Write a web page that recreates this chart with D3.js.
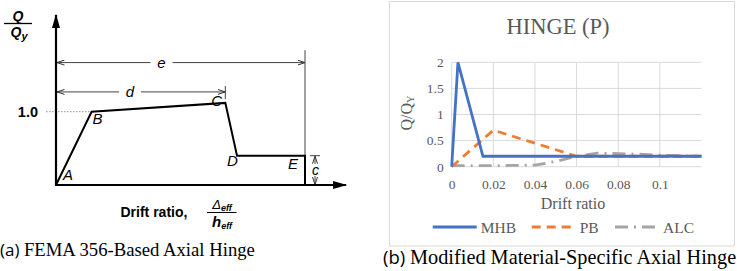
<!DOCTYPE html>
<html>
<head>
<meta charset="utf-8">
<script src="https://cdn.jsdelivr.net/npm/d3@7"></script>
<style>
  body { margin: 0; background: #fff; }
  svg { display: block; }
</style>
</head>
<body>
<script>
// ---- data: left schematic (FEMA 356 backbone, normalised units) ----
var hingeLabels = ["A", "B", "C", "D", "E"];
var hingeX = [0, 0.143, 0.68, 0.727, 1.0];
var hingeY = [0, 1.0, 1.12, 0.4, 0.4];

// ---- data: right chart (drift ratio vs Q/QY) ----
var mhbX = [0, 0.003, 0.015, 0.12];
var mhbY = [0, 2.0, 0.2, 0.2];
var pbX = [0, 0.02, 0.06, 0.12];
var pbY = [0, 0.7, 0.2, 0.2];
var alcX = [0, 0.02, 0.04, 0.05, 0.06, 0.07, 0.08, 0.09, 0.1, 0.12];
var alcY = [0.02, 0.02, 0.03, 0.1, 0.2, 0.26, 0.25, 0.24, 0.22, 0.2];
var xTicks = [0, 0.02, 0.04, 0.06, 0.08, 0.1];
var xTickLabels = ["0", "0.02", "0.04", "0.06", "0.08", "0.1"];
var yTicks = [0, 0.5, 1, 1.5, 2];
var yTickLabels = ["0", "0.5", "1", "1.5", "2"];
var seriesNames = ["MHB", "PB", "ALC"];

var svg = d3.select("body").append("svg")
    .attr("width", 737)
    .attr("height", 271);

var defs = svg.append("defs");
defs.append("marker")
    .attr("id", "bigArrow")
    .attr("viewBox", "0 0 14 8")
    .attr("refX", 13).attr("refY", 4)
    .attr("markerWidth", 14).attr("markerHeight", 8)
    .attr("markerUnits", "userSpaceOnUse")
    .attr("orient", "auto")
  .append("path")
    .attr("d", "M0,0 L14,4 L0,8 Z")
    .attr("fill", "#000");
defs.append("marker")
    .attr("id", "dimArrow")
    .attr("viewBox", "0 0 8 6")
    .attr("refX", 7.5).attr("refY", 3)
    .attr("markerWidth", 8).attr("markerHeight", 6)
    .attr("markerUnits", "userSpaceOnUse")
    .attr("orient", "auto-start-reverse")
  .append("path")
    .attr("d", "M0,0.5 L7.5,3 L0,5.5")
    .attr("fill", "none")
    .attr("stroke", "#333")
    .attr("stroke-width", 1);

// =================== (a) schematic ===================
function drawSchematic() {
  var x = d3.scaleLinear().domain([0, 1]).range([56, 305]);
  var y = d3.scaleLinear().domain([0, 1]).range([185, 111.7]);
  var g = svg.append("g");
  var sans = "'Liberation Sans', Arial, sans-serif";

  // dotted guide at 1.0
  g.append("line")
      .attr("x1", 46).attr("x2", x(hingeX[1]))
      .attr("y1", y(1)).attr("y2", y(1))
      .attr("stroke", "#777").attr("stroke-width", 0.8)
      .attr("stroke-dasharray", "1.5,1.5");

  // dimension lines e and d
  g.append("line")
      .attr("x1", x(1)).attr("x2", x(1))
      .attr("y1", y(1.84)).attr("y2", y(0.4))
      .attr("stroke", "#444").attr("stroke-width", 1);
  g.append("line")
      .attr("x1", x(hingeX[2])).attr("x2", x(hingeX[2]))
      .attr("y1", y(1.35)).attr("y2", y(1.17))
      .attr("stroke", "#444").attr("stroke-width", 1);

  [[1.0, 1.67, "e"], [hingeX[2], 1.27, "d"]].forEach(function(dim) {
    g.append("line")
        .attr("x1", x(0) + 1).attr("x2", x(dim[0]))
        .attr("y1", y(dim[1])).attr("y2", y(dim[1]))
        .attr("stroke", "#444").attr("stroke-width", 1)
        .attr("marker-start", "url(#dimArrow)")
        .attr("marker-end", "url(#dimArrow)");
    var cx = dim[2] == "e" ? 161.5 : 130;
    g.append("rect")
        .attr("x", cx - 11).attr("y", y(dim[1]) - 6)
        .attr("width", 22).attr("height", 12)
        .attr("fill", "#fff");
    g.append("text")
        .attr("x", cx).attr("y", y(dim[1]) + 5)
        .attr("text-anchor", "middle")
        .attr("font-family", sans).attr("font-style", "italic")
        .attr("font-size", 15)
        .text(dim[2]);
  });

  // c dimension
  g.append("line")
      .attr("x1", 310).attr("x2", 320)
      .attr("y1", y(0.4)).attr("y2", y(0.4))
      .attr("stroke", "#444").attr("stroke-width", 1);
  g.append("line")
      .attr("x1", 315).attr("x2", 315)
      .attr("y1", y(0.4) + 0.5).attr("y2", y(0) - 0.5)
      .attr("stroke", "#444").attr("stroke-width", 1)
      .attr("marker-start", "url(#dimArrow)")
      .attr("marker-end", "url(#dimArrow)");
  g.append("rect")
      .attr("x", 311).attr("y", 164).attr("width", 9).attr("height", 12)
      .attr("fill", "#fff");
  g.append("text")
      .attr("x", 315.5).attr("y", 174.5)
      .attr("text-anchor", "middle")
      .attr("font-family", sans).attr("font-style", "italic")
      .attr("font-size", 14)
      .text("c");

  // axes
  g.append("line")
      .attr("x1", x(0)).attr("x2", x(0))
      .attr("y1", y(0) + 1).attr("y2", y(2.32))
      .attr("stroke", "#000").attr("stroke-width", 2.2)
      .attr("marker-end", "url(#bigArrow)");
  g.append("line")
      .attr("x1", x(0) - 1).attr("x2", x(1.165))
      .attr("y1", y(0)).attr("y2", y(0))
      .attr("stroke", "#000").attr("stroke-width", 2.2)
      .attr("marker-end", "url(#bigArrow)");

  // backbone curve
  var pts = hingeX.map(function(d, i) { return [x(d), y(hingeY[i])]; });
  pts.push([x(hingeX[4]), y(0)]);
  g.append("path")
      .attr("d", d3.line()(pts))
      .attr("fill", "none")
      .attr("stroke", "#000").attr("stroke-width", 2)
      .attr("stroke-linejoin", "miter");

  // point labels
  var off = [[7, -5], [1, 12], [-14, 3], [-10, 10], [-17, 13]];
  hingeLabels.forEach(function(l, i) {
    g.append("text")
        .attr("x", x(hingeX[i]) + off[i][0])
        .attr("y", y(hingeY[i]) + off[i][1])
        .attr("font-family", sans).attr("font-style", "italic")
        .attr("font-size", 15)
        .text(l);
  });

  // 1.0 label
  g.append("text")
      .attr("x", 38).attr("y", y(1) + 5.5)
      .attr("text-anchor", "end")
      .attr("font-family", sans).attr("font-weight", "bold")
      .attr("font-size", 14.5)
      .text("1.0");

  // Q / Qy
  g.append("text")
      .attr("x", 18).attr("y", 20.5)
      .attr("text-anchor", "middle")
      .attr("font-family", sans).attr("font-weight", "bold").attr("font-style", "italic")
      .attr("font-size", 14)
      .text("Q");
  g.append("line")
      .attr("x1", 4).attr("x2", 32).attr("y1", 23.5).attr("y2", 23.5)
      .attr("stroke", "#000").attr("stroke-width", 1.3);
  var qy = g.append("text")
      .attr("x", 19).attr("y", 37)
      .attr("text-anchor", "middle")
      .attr("font-family", sans).attr("font-weight", "bold").attr("font-style", "italic")
      .attr("font-size", 14);
  qy.append("tspan").text("Q");
  qy.append("tspan").attr("font-size", 11).attr("dy", 3).text("y");

  // Drift ratio, Δeff / heff
  g.append("text")
      .attr("x", 120.5).attr("y", 216.5)
      .attr("font-family", sans).attr("font-weight", "bold")
      .attr("font-size", 14)
      .text("Drift ratio,");
  var num = g.append("text")
      .attr("x", 222).attr("y", 208.5)
      .attr("text-anchor", "middle")
      .attr("font-family", sans).attr("font-style", "italic")
      .attr("font-size", 13);
  num.append("tspan").text("\u0394");
  num.append("tspan").attr("font-size", 9).attr("font-weight", "bold").attr("dy", 2).text("eff");
  g.append("line")
      .attr("x1", 207).attr("x2", 236.5).attr("y1", 212.5).attr("y2", 212.5)
      .attr("stroke", "#000").attr("stroke-width", 1);
  var den = g.append("text")
      .attr("x", 222).attr("y", 226.5)
      .attr("text-anchor", "middle")
      .attr("font-family", sans).attr("font-style", "italic").attr("font-weight", "bold")
      .attr("font-size", 15);
  den.append("tspan").text("h");
  den.append("tspan").attr("font-size", 9).attr("dy", 2).text("eff");

  // caption
  var cap = g.append("text")
      .attr("x", 0).attr("y", 255.5)
      .attr("font-size", 18.7)
      .attr("fill", "#000");
  cap.append("tspan").attr("font-family", "'Open Sans', sans-serif").attr("font-size", 17).text("(a) ");
  cap.append("tspan").attr("font-family", "'Liberation Serif', serif").text("FEMA 356-Based Axial Hinge");
}

// =================== (b) Excel chart ===================
function drawChart() {
  var serif = "'Liberation Serif', 'Times New Roman', serif";
  var grey = "#595959";
  var g = svg.append("g");

  g.append("rect")
      .attr("x", 389.5).attr("y", 1.5)
      .attr("width", 345).attr("height", 244.5)
      .attr("fill", "#fff")
      .attr("stroke", "#d9d9d9").attr("stroke-width", 1);

  var x = d3.scaleLinear().domain([0, 0.12]).range([451.7, 701.5]);
  var y = d3.scaleLinear().domain([0, 2]).range([166.7, 62.3]);

  // gridlines
  g.append("g").selectAll("line").data(yTicks).enter().append("line")
      .attr("x1", x(0)).attr("x2", x(0.12))
      .attr("y1", function(d) { return y(d); })
      .attr("y2", function(d) { return y(d); })
      .attr("stroke", "#d9d9d9").attr("stroke-width", 1);
  g.append("g").selectAll("line").data(xTicks).enter().append("line")
      .attr("x1", function(d) { return x(d); })
      .attr("x2", function(d) { return x(d); })
      .attr("y1", y(0)).attr("y2", y(2))
      .attr("stroke", "#d9d9d9").attr("stroke-width", 1);

  // tick labels via axes
  var xAxis = g.append("g")
      .attr("transform", "translate(0," + y(0) + ")")
      .call(d3.axisBottom(x).tickValues(xTicks)
        .tickFormat(function(d, i) { return xTickLabels[i]; })
        .tickSize(0).tickPadding(13));
  var yAxis = g.append("g")
      .attr("transform", "translate(" + x(0) + ",0)")
      .call(d3.axisLeft(y).tickValues(yTicks)
        .tickFormat(function(d, i) { return yTickLabels[i]; })
        .tickSize(0).tickPadding(8));
  [xAxis, yAxis].forEach(function(a) {
    a.select(".domain").remove();
    a.selectAll("text")
        .attr("font-family", serif).attr("font-size", 13.5)
        .attr("fill", grey);
  });

  // series
  var series = [
    { xs: mhbX, ys: mhbY, color: "#4472c4", dash: null },
    { xs: pbX, ys: pbY, color: "#ed7d31", dash: "9,6" },
    { xs: alcX, ys: alcY, color: "#a5a5a5", dash: "13,6,2,6" }
  ];
  var line = d3.line()
      .x(function(d) { return x(d[0]); })
      .y(function(d) { return y(d[1]); });
  series.slice().reverse().forEach(function(s) {
    g.append("path")
        .datum(s.xs.map(function(v, i) { return [v, s.ys[i]]; }))
        .attr("d", line)
        .attr("fill", "none")
        .attr("stroke", s.color).attr("stroke-width", 2.8)
        .attr("stroke-dasharray", s.dash);
  });

  // title
  g.append("text")
      .attr("x", 558).attr("y", 33.5)
      .attr("text-anchor", "middle")
      .attr("font-family", serif).attr("font-size", 22.5)
      .attr("fill", grey)
      .text("HINGE (P)");

  // axis titles
  g.append("text")
      .attr("x", 573).attr("y", 209)
      .attr("text-anchor", "middle")
      .attr("font-family", serif).attr("font-size", 16)
      .attr("fill", grey)
      .text("Drift ratio");
  var yt = g.append("text")
      .attr("transform", "translate(412,113) rotate(-90)")
      .attr("text-anchor", "middle")
      .attr("font-family", serif).attr("font-size", 16)
      .attr("fill", grey);
  yt.append("tspan").text("Q/Q");
  yt.append("tspan").attr("font-size", 10.5).attr("dy", 2).text("Y");

  // legend
  var legX = [432.7, 531.7, 615];
  series.forEach(function(s, i) {
    g.append("line")
        .attr("x1", legX[i]).attr("x2", legX[i] + 44)
        .attr("y1", 227).attr("y2", 227)
        .attr("stroke", s.color).attr("stroke-width", 2.8)
        .attr("stroke-dasharray", s.dash);
    g.append("text")
        .attr("x", legX[i] + 48).attr("y", 232.5)
        .attr("font-family", serif).attr("font-size", 15.5)
        .attr("fill", grey)
        .text(seriesNames[i]);
  });

  // caption
  var cap = g.append("text")
      .attr("x", 383).attr("y", 263.5)
      .attr("font-size", 20.3)
      .attr("fill", "#000");
  cap.append("tspan").attr("font-family", "'Open Sans', sans-serif").attr("font-size", 18.5).text("(b) ");
  cap.append("tspan").attr("font-family", serif).text("Modified Material-Specific Axial Hinge");
}

drawSchematic();
drawChart();
</script>
</body>
</html>
